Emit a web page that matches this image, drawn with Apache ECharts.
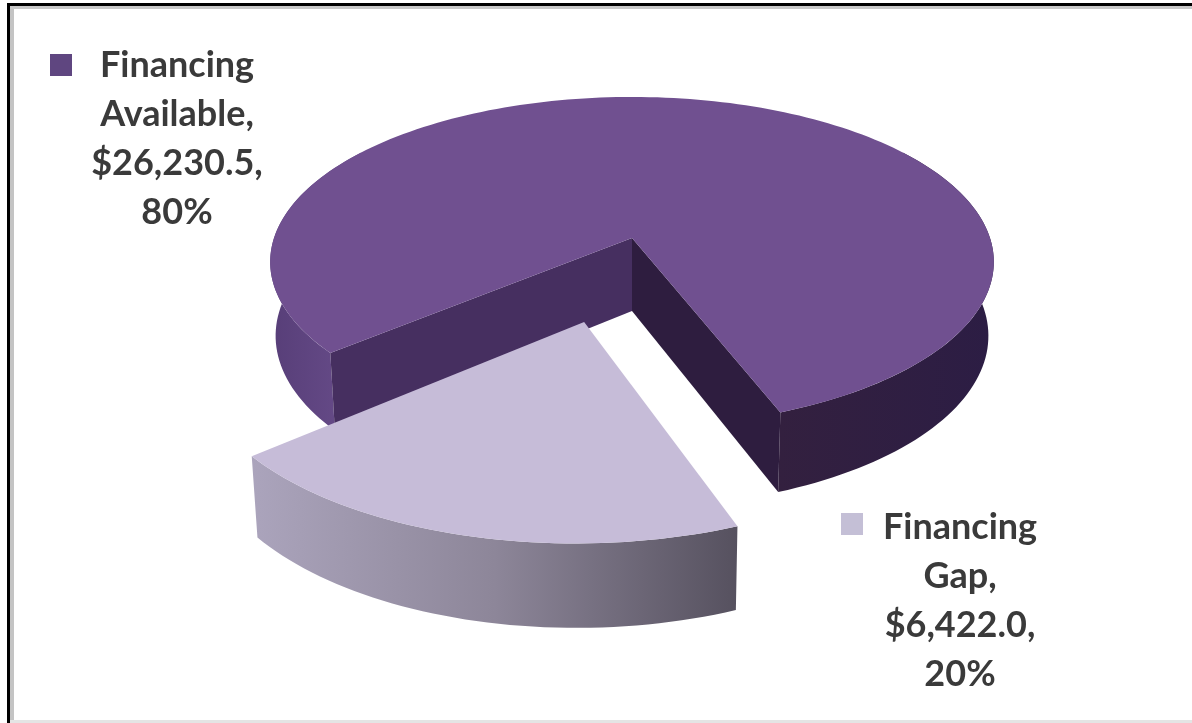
<!DOCTYPE html>
<html>
<head>
<meta charset="utf-8">
<title>Financing Available and Financing Gap</title>
<script src="https://cdn.jsdelivr.net/npm/echarts@6/dist/echarts.min.js"></script>
<style>
  html, body { margin: 0; padding: 0; background: #fff; }
  #chart { width: 1192px; height: 723px; }
</style>
</head>
<body>
<div id="chart"></div>
<script>
// Funding split, in the same order the slices are swept around the pie.
const categories = ['Financing Available', 'Financing Gap'];
const amounts = [26230.5, 6422.0];

// Perspective model of the tilted pie: unit-circle points (u, v), with v
// pointing towards the viewer, are projected onto the page.
const pie = {
  cx: 632, cy: 238,      // page position of the pie's centre
  a: 358, b: 161.5,      // horizontal and vertical radius factors
  p: 0.145,              // strength of the perspective
  depth: 73,             // height of the extruded wall at the centre
  depthGrowth: 0.6,      // how quickly the wall grows towards the viewer
  floorScale: 0.985,     // the floor of the pie narrows slightly with distance
  firstAngle: 21,        // where the first slice starts, degrees from the front
  explode: 0.5           // how far the last slice is pulled out, in radii
};

const styles = [
  {
    top: '#705090',
    marker: '#5f4680',
    wallRight: new echarts.graphic.LinearGradient(0, 0, 1, 0, [
      { offset: 0, color: '#33203f' }, { offset: 1, color: '#2c1d44' }
    ]),
    wallLeft: new echarts.graphic.LinearGradient(0, 0, 1, 0, [
      { offset: 0, color: '#573e78' }, { offset: 1, color: '#6a4e8c' }
    ]),
    cutNear: '#462f60',
    cutFar: '#2e1d3f'
  },
  {
    top: '#c6bcd8',
    marker: '#c4bfd6',
    wall: new echarts.graphic.LinearGradient(0, 0, 1, 0, [
      { offset: 0, color: '#aba4bc' },
      { offset: 0.5, color: '#8d8699' },
      { offset: 1, color: '#56515f' }
    ])
  }
];

const labelBoxes = [
  { textX: 177, textY: 41, markerX: 50, markerY: 54 },
  { textX: 960, textY: 503, markerX: 841, markerY: 513 }
];

const total = amounts.reduce((sum, v) => sum + v, 0);
const rad = (deg) => (deg * Math.PI) / 180;

function project(u, v, onFloor) {
  const w = 1 - pie.p * v;
  const scale = onFloor ? pie.floorScale : 1;
  return [
    pie.cx + (pie.a * u * scale) / w,
    pie.cy + (pie.b * v) / w + (onFloor ? pie.depth / Math.pow(w, pie.depthGrowth) : 0)
  ];
}

function arcPoints(from, to, origin, onFloor) {
  const pts = [];
  const steps = Math.max(2, Math.ceil(Math.abs(to - from) / 1.5));
  for (let i = 0; i <= steps; i++) {
    const t = rad(from + ((to - from) * i) / steps);
    pts.push(project(origin[0] + Math.sin(t), origin[1] + Math.cos(t), onFloor));
  }
  return pts;
}

function wall(from, to, origin, fill) {
  const upper = arcPoints(from, to, origin, false);
  const lower = arcPoints(from, to, origin, true).reverse();
  return { type: 'polygon', shape: { points: upper.concat(lower) }, style: { fill: fill } };
}

function cut(angle, origin, fill) {
  const t = rad(angle);
  const rim = [origin[0] + Math.sin(t), origin[1] + Math.cos(t)];
  return {
    type: 'polygon',
    shape: {
      points: [
        project(origin[0], origin[1], false),
        project(rim[0], rim[1], false),
        project(rim[0], rim[1], true),
        project(origin[0], origin[1], true)
      ]
    },
    style: { fill: fill }
  };
}

function labelText(index, value) {
  const money = '$' + value.toLocaleString('en-US', { minimumFractionDigits: 1, maximumFractionDigits: 1 });
  const share = Math.round((value / total) * 100) + '%';
  return categories[index].split(' ').join('\n') + ',\n' + money + ',\n' + share;
}

function renderSlice(params, api) {
  const i = params.dataIndex;
  const value = api.value(1);
  const sweep = (value / total) * 360;
  let start = pie.firstAngle;
  for (let k = 0; k < i; k++) start += (amounts[k] / total) * 360;
  const end = start + sweep;
  const s = styles[i];
  const children = [];
  let origin = [0, 0];

  if (i === 0) {
    // Large slice: outer wall on both sides of the notch, then the cut faces.
    children.push(wall(start, 125, origin, s.wallRight));
    children.push(wall(235, end, origin, s.wallLeft));
    children.push(cut(end, origin, s.cutNear));
    children.push(cut(start, origin, s.cutFar));
  } else {
    // Exploded slice: shifted along its own bisector, only the rim wall shows.
    const mid = rad(start + sweep / 2);
    origin = [pie.explode * Math.sin(mid), pie.explode * Math.cos(mid)];
    children.push(wall(start, end, origin, s.wall));
  }

  children.push({
    type: 'polygon',
    shape: {
      points: [project(origin[0], origin[1], false)].concat(arcPoints(start, end, origin, false))
    },
    style: { fill: s.top }
  });

  const box = labelBoxes[i];
  children.push({
    type: 'rect',
    shape: { x: box.markerX, y: box.markerY, width: 22, height: 22 },
    style: { fill: s.marker }
  });
  children.push({
    type: 'text',
    x: box.textX,
    y: box.textY,
    style: {
      text: labelText(i, value),
      fill: '#3a3a3a',
      font: 'bold 36px Lato, "Open Sans", sans-serif',
      lineHeight: 49,
      align: 'center',
      verticalAlign: 'top'
    }
  });

  return { type: 'group', children: children };
}

const chart = echarts.init(document.getElementById('chart'), null, { renderer: 'canvas' });
chart.setOption({
  animation: false,
  backgroundColor: '#ffffff',
  graphic: [
    // Picture frame: heavy left and top rules with a soft inner shadow.
    { type: 'rect', silent: true, shape: { x: 7, y: 3, width: 3, height: 720 }, style: { fill: '#000' } },
    { type: 'rect', silent: true, shape: { x: 10, y: 6, width: 4, height: 717 }, style: { fill: '#c4c4c4' } },
    { type: 'rect', silent: true, shape: { x: 7, y: 3, width: 1185, height: 3 }, style: { fill: '#000' } },
    { type: 'rect', silent: true, shape: { x: 10, y: 6, width: 1182, height: 3 }, style: { fill: '#c8c8c8' } },
    { type: 'rect', silent: true, shape: { x: 10, y: 720, width: 1182, height: 3 }, style: { fill: '#e4e4e4' } }
  ],
  series: [{
    type: 'custom',
    coordinateSystem: 'none',
    silent: true,
    renderItem: renderSlice,
    data: amounts.map((v, i) => [i, v])
  }]
});
</script>
</body>
</html>
